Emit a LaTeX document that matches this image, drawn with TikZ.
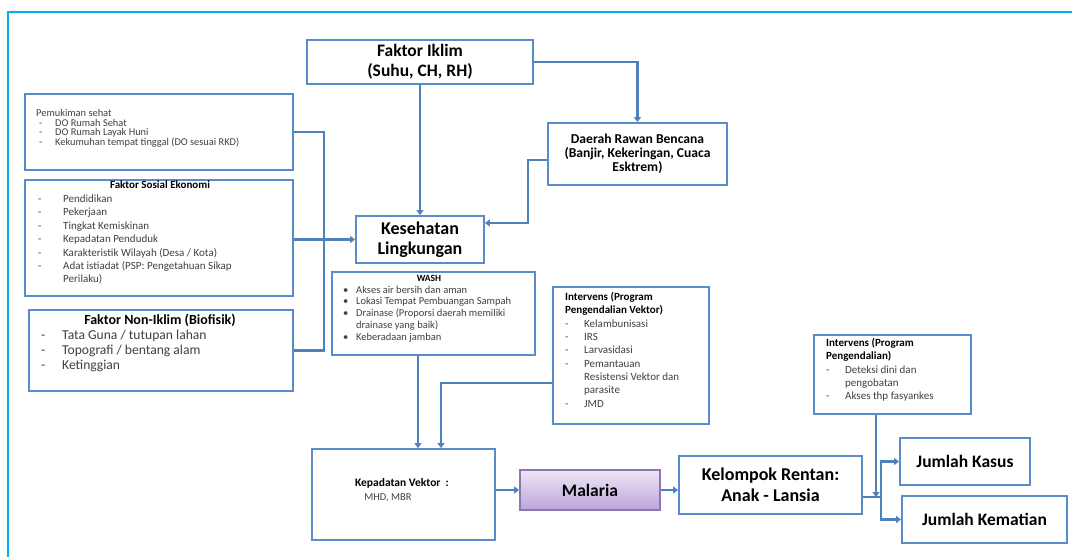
\documentclass[tikz,border=0pt]{standalone}
\usepackage{fontspec}
\setmainfont{Carlito}
\usetikzlibrary{arrows.meta,shadows}
\definecolor{ln}{HTML}{4F81BD}
\definecolor{bx}{HTML}{5B8BC9}
\definecolor{cy}{HTML}{00B0F0}
\definecolor{txt}{HTML}{404040}
\definecolor{malT}{HTML}{EEE6F6}
\definecolor{malB}{HTML}{BCA5D8}
\definecolor{malD}{HTML}{8E76B3}
\newcommand\fs[2]{\fontsize{#1}{#2}\selectfont}
\newcommand\dashitem[2]{\makebox[#1][l]{-}#2}
\newcommand\bulitem[2]{\makebox[#1][l]{\textbullet}#2}
\begin{document}
\begin{tikzpicture}[x=1pt,y=-1pt,
  box/.style={draw=bx, line width=1.8pt, fill=white, inner sep=0pt,
    drop shadow={shadow xshift=1.2pt, shadow yshift=-1.2pt, opacity=0.25}},
  conn/.style={draw=ln, line width=2.2pt},
  arr/.style={conn, -{Triangle[width=7pt,length=5pt]}},
  lst/.style={anchor=north west, inner sep=0pt, align=left, text=txt},
  ttl/.style={inner sep=0pt, align=center}]
\useasboundingbox (0,0) rectangle (1072,557);
\draw[cy, line width=2.5pt] (1080,12) -- (8,12) -- (8,565);

% boxes
\node[box, minimum width=226pt, minimum height=44pt, align=center, font=\bfseries\fs{17.5}{20}] (iklim) at (420,62) {Faktor Iklim\\(Suhu, CH, RH)};
\node[box, minimum width=268pt, minimum height=76pt] (pem) at (159,132) {};
\node[box, minimum width=268pt, minimum height=116pt] (sos) at (159,238) {};
\node[box, minimum width=264pt, minimum height=81pt] (non) at (161,350.5) {};
\node[box, minimum width=179pt, minimum height=62pt, align=center, font=\bfseries\fs{13.6}{14.2}] (dae) at (637.5,154) {Daerah Rawan Bencana\\(Banjir, Kekeringan, Cuaca\\Esktrem)};
\node[box, minimum width=128pt, minimum height=47pt, align=center, font=\bfseries\fs{18}{20}] (kes) at (420,239.5) {Kesehatan\\Lingkungan};
\node[box, minimum width=203pt, minimum height=83pt] (wash) at (433.5,313.5) {};
\node[box, minimum width=156pt, minimum height=137pt] (intv) at (631,355.5) {};
\node[box, minimum width=183pt, minimum height=91pt] (kep) at (403.5,494.5) {};
\node[box, draw=malD, top color=malT, bottom color=malB, minimum width=140pt, minimum height=40pt, font=\bfseries\fs{17.5}{20}] (mal) at (590,490) {Malaria};
\node[box, minimum width=183pt, minimum height=58pt, align=center, font=\bfseries\fs{18}{21}] (kel) at (770.5,485) {Kelompok Rentan:\\Anak - Lansia};
\node[box, minimum width=157pt, minimum height=79pt] (intp) at (892.5,374.5) {};
\node[box, minimum width=130pt, minimum height=47pt, font=\bfseries\fs{17.5}{20}] (jk) at (965,461.5) {Jumlah Kasus};
\node[box, minimum width=165pt, minimum height=47pt, font=\bfseries\fs{17.5}{20}] (jm) at (984.5,519.5) {Jumlah Kematian};

% texts
\node[lst, font=\fs{10.4}{9.4}] (pemt) at (36,109.5) {Pemukiman sehat\\
\hspace*{3pt}\dashitem{16pt}{DO Rumah Sehat}\\
\hspace*{3pt}\dashitem{16pt}{DO Rumah Layak Huni}\\
\hspace*{3pt}\dashitem{16pt}{Kekumuhan tempat tinggal (DO sesuai RKD)}};

\node[ttl, font=\bfseries\fs{11}{13}] (sost) at (160,185) {Faktor Sosial Ekonomi};
\node[lst, font=\fs{11}{13.4}] (sosl) at (38,194.6) {\dashitem{25pt}{Pendidikan}\\
\dashitem{25pt}{Pekerjaan}\\
\dashitem{25pt}{Tingkat Kemiskinan}\\
\dashitem{25pt}{Kepadatan Penduduk}\\
\dashitem{25pt}{Karakteristik Wilayah (Desa / Kota)}\\
\dashitem{25pt}{Adat istiadat (PSP: Pengetahuan Sikap}\\
\hspace*{25pt}Perilaku)};

\node[ttl, font=\bfseries\fs{14}{15}] (nont) at (160,320.7) {Faktor Non-Iklim (Biofisik)};
\node[lst, font=\fs{13.6}{15}] (nonl) at (41,329.6) {\dashitem{21pt}{Tata Guna / tutupan lahan}\\
\dashitem{21pt}{Topografi / bentang alam}\\
\dashitem{21pt}{Ketinggian}};

\node[ttl, font=\bfseries\fs{9.5}{11}] (washt) at (429,278.3) {WASH};
\node[lst, font=\fs{10.5}{11.7}] (washl) at (343,285.8) {\bulitem{13pt}{Akses air bersih dan aman}\\
\bulitem{13pt}{Lokasi Tempat Pembuangan Sampah}\\
\bulitem{13pt}{Drainase (Proporsi daerah memiliki}\\
\hspace*{13pt}drainase yang baik)\\
\bulitem{13pt}{Keberadaan jamban}};

\node[lst, font=\fs{11}{13.3}] (intvl) at (565,292.3) {\textcolor{black}{\bfseries Intervens (Program}\\
\textcolor{black}{\bfseries Pengendalian Vektor)}\\
\dashitem{19pt}{Kelambunisasi}\\
\dashitem{19pt}{IRS}\\
\dashitem{19pt}{Larvasidasi}\\
\dashitem{19pt}{Pemantauan}\\
\hspace*{19pt}Resistensi Vektor dan\\
\hspace*{19pt}parasite\\
\dashitem{19pt}{JMD}};

\node[lst, font=\fs{11}{13.3}] (intpl) at (826,338.3) {\textcolor{black}{\bfseries Intervens (Program}\\
\textcolor{black}{\bfseries Pengendalian)}\\
\dashitem{19pt}{Deteksi dini dan}\\
\hspace*{19pt}pengobatan\\
\dashitem{19pt}{Akses thp fasyankes}};

\node[inner sep=0pt, font=\bfseries\fs{11.5}{12}] (kept) at (402,483) {Kepadatan Vektor\ \ :};
\node[inner sep=0pt, font=\fs{10.5}{12}, text=txt] (kepm) at (388,498) {MHD, MBR};

% connectors
\draw[arr] (iklim.south) -- (kes.north);
\draw[arr] (iklim.east) -| (dae.north);
\draw[arr] ([yshift=-6pt]dae.west) -- ++(-19,0) |- ([yshift=16.5pt]kes.east);
\draw[conn] (pem.east) -- ++(30,0) |- (non.east);
\draw[arr] (sos.east |- kes.west) -- (kes.west);
\draw[arr] ([xshift=-15.5pt]wash.south) -- ([xshift=-15.5pt]wash.south |- kep.north);
\draw[arr] ([yshift=-27.5pt]intv.west) -| ([xshift=37.5pt]kep.north);
\draw[arr] (kep.east |- mal.west) -- (mal.west);
\draw[arr] (mal.east) -- (kel.west |- mal.east);
\coordinate (jn) at (881,497);
\draw[conn] ([yshift=-12pt]kel.east) -- (jn);
\draw[arr] (jn) |- (jk.west);
\draw[arr] (jn) |- (jm.west);
\draw[arr] ([xshift=-16.5pt]intp.south) -- ([xshift=-16.5pt]intp.south |- jn);
\end{tikzpicture}
\end{document}
